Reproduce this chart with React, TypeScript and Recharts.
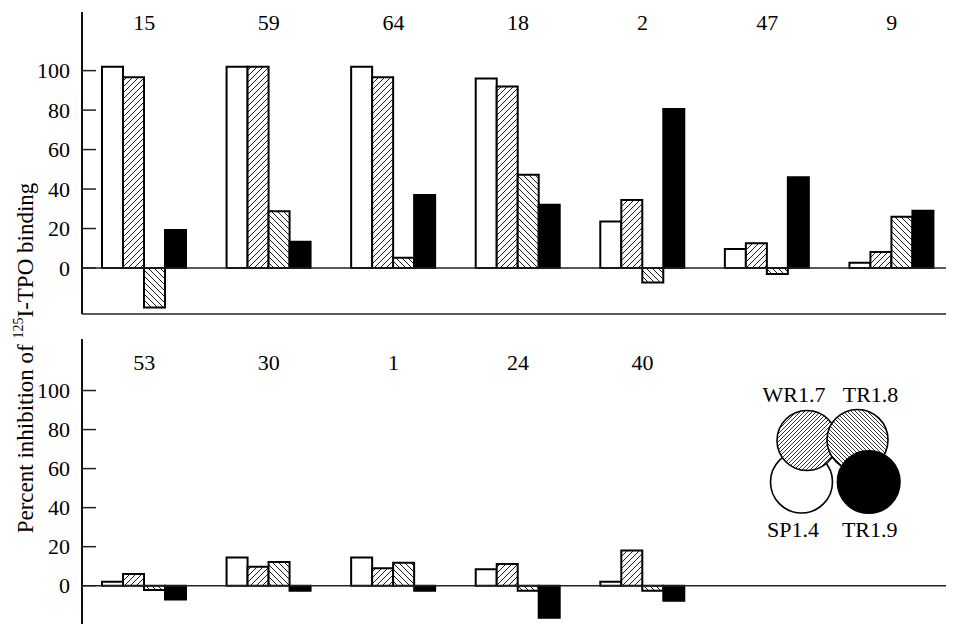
import React from 'react';
import { BarChart, Bar, XAxis, YAxis, ReferenceLine } from 'recharts';

// ---- data ----
const topGroups = ['15', '59', '64', '18', '2', '47', '9'];
const topSP14 = [102, 102, 102, 96, 23.5, 9.6, 2.7];
const topWR17 = [96.6, 102, 96.6, 92, 34.5, 12.5, 8.1];
const topTR18 = [-20, 28.7, 5.2, 47.3, -7.4, -3, 26];
const topTR19 = [19.3, 13.3, 37, 32, 80.6, 46, 29];

const bottomGroups = ['53', '30', '1', '24', '40', ' ', '  '];
const bottomSP14 = [2, 14.4, 14.5, 8.4, 2, null, null];
const bottomWR17 = [6, 9.7, 9, 11.1, 18, null, null];
const bottomTR18 = [-2.2, 12.1, 11.8, -2.6, -2.6, null, null];
const bottomTR19 = [-7, -2.6, -2.6, -16.4, -7.7, null, null];

const seriesNames = ['SP1.4', 'WR1.7', 'TR1.8', 'TR1.9'];
const yTicks = [0, 20, 40, 60, 80, 100];

const FONT = 'Liberation Serif, Times New Roman, serif';

function buildRows(groups: string[], a: any[], b: any[], c: any[], d: any[]) {
  return groups.map((g, i) => ({ group: g, sp: a[i], wr: b[i], tr8: c[i], tr9: d[i] }));
}

const topRows = buildRows(topGroups, topSP14, topWR17, topTR18, topTR19);
const bottomRows = buildRows(bottomGroups, bottomSP14, bottomWR17, bottomTR18, bottomTR19);

const YTick = (props: any) => {
  const { x, y, payload } = props;
  const ax = x + 12;
  return (
    <g>
      <line x1={ax} x2={ax + 14} y1={y} y2={y} stroke="#222" strokeWidth={1.5} />
      <text x={x} y={y} dy="0.35em" textAnchor="end" style={{ fontFamily: FONT, fontSize: 22 }} fill="#000">
        {payload.value}
      </text>
    </g>
  );
};

const GroupTick = (props: any) => {
  const { x, y, payload, labelDy } = props;
  return (
    <text x={x} y={y + labelDy} textAnchor="middle" style={{ fontFamily: FONT, fontSize: 22 }} fill="#000">
      {payload.value}
    </text>
  );
};

function Patterns({ id }: { id: string }) {
  return (
    <defs>
      <pattern id={`fwd-${id}`} patternUnits="userSpaceOnUse" width="6" height="6">
        <rect width="6" height="6" fill="#fff" />
        <path d="M0,6 L6,0 M-1.5,1.5 L1.5,-1.5 M4.5,7.5 L7.5,4.5" stroke="#000" strokeWidth="0.9" />
      </pattern>
      <pattern id={`back-${id}`} patternUnits="userSpaceOnUse" width="6" height="6">
        <rect width="6" height="6" fill="#fff" />
        <path d="M0,0 L6,6 M-1.5,4.5 L1.5,7.5 M4.5,-1.5 L7.5,1.5" stroke="#000" strokeWidth="0.9" />
      </pattern>
    </defs>
  );
}

function Panel({ rows, height, marginTop, marginBottom, domain, labelDy, id }: any) {
  return (
    <BarChart
      width={954}
      height={height}
      data={rows}
      margin={{ top: marginTop, right: 0, bottom: marginBottom, left: 0 }}
      barGap={0}
      barSize={21}
    >
      <Patterns id={id} />
      <XAxis
        xAxisId="b"
        dataKey="group"
        orientation="bottom"
        height={1}
        tick={false}
        tickLine={false}
        axisLine={{ stroke: '#222', strokeWidth: 1.5 }}
      />
      <XAxis
        xAxisId="t"
        dataKey="group"
        orientation="top"
        height={1}
        tickLine={false}
        axisLine={false}
        tickSize={0}
        tickMargin={0}
        interval={0}
        tick={<GroupTick labelDy={labelDy} />}
      />
      <YAxis
        width={82}
        type="number"
        domain={domain}
        allowDataOverflow
        ticks={yTicks}
        interval={0}
        tickSize={0}
        tickMargin={12}
        tickLine={false}
        tick={<YTick />}
        axisLine={{ stroke: '#111', strokeWidth: 2 }}
      />
      <ReferenceLine xAxisId="b" y={0} stroke="#222" strokeWidth={1.5} />
      <Bar xAxisId="b" dataKey="sp" name={seriesNames[0]} fill="#fff" stroke="#000" strokeWidth={2} isAnimationActive={false} />
      <Bar xAxisId="b" dataKey="wr" name={seriesNames[1]} fill={`url(#fwd-${id})`} stroke="#000" strokeWidth={2} isAnimationActive={false} />
      <Bar xAxisId="b" dataKey="tr8" name={seriesNames[2]} fill={`url(#back-${id})`} stroke="#000" strokeWidth={2} isAnimationActive={false} />
      <Bar xAxisId="b" dataKey="tr9" name={seriesNames[3]} fill="#000" stroke="#000" strokeWidth={2} isAnimationActive={false} />
    </BarChart>
  );
}

function Overlay() {
  const circles = [
    { name: seriesNames[0], cx: 801.5, cy: 482, r: 31, fill: '#fff', lx: 793, ly: 537 },
    { name: seriesNames[1], cx: 807, cy: 440.5, r: 30, fill: 'url(#lg-fwd)', lx: 794, ly: 402 },
    { name: seriesNames[2], cx: 857.5, cy: 440, r: 30.5, fill: 'url(#lg-back)', lx: 870.5, ly: 402 },
    { name: seriesNames[3], cx: 868.7, cy: 482, r: 31.3, fill: '#000', lx: 869.7, ly: 537 },
  ];
  return (
    <svg
      width={954}
      height={632}
      style={{ position: 'absolute', left: 0, top: 0, pointerEvents: 'none' }}
    >
      <defs>
        <pattern id="lg-fwd" patternUnits="userSpaceOnUse" width="4" height="4">
          <rect width="4" height="4" fill="#fff" />
          <path d="M0,4 L4,0 M-1,1 L1,-1 M3,5 L5,3" stroke="#000" strokeWidth="0.8" />
        </pattern>
        <pattern id="lg-back" patternUnits="userSpaceOnUse" width="4" height="4">
          <rect width="4" height="4" fill="#fff" />
          <path d="M0,0 L4,4 M-1,3 L1,5 M3,-1 L5,1" stroke="#000" strokeWidth="0.8" />
        </pattern>
      </defs>
      {circles.map((c) => (
        <circle key={c.name} cx={c.cx} cy={c.cy} r={c.r} fill={c.fill} stroke="#000" strokeWidth={1.6} />
      ))}
      {circles.map((c) => (
        <text key={c.name + 't'} x={c.lx} y={c.ly} textAnchor="middle" style={{ fontFamily: FONT, fontSize: 22 }} fill="#000">
          {c.name}
        </text>
      ))}
      <text
        transform="translate(33,358) rotate(-90)"
        textAnchor="middle"
        style={{ fontFamily: FONT, fontSize: 23 }}
        fill="#000"
      >
        Percent inhibition of <tspan style={{ fontSize: 14 }} dy={-10}>125</tspan>
        <tspan dy={10}>I-TPO binding</tspan>
      </text>
    </svg>
  );
}

export default function App() {
  return (
    <div style={{ position: 'relative', width: 954, height: 632, margin: -8, background: '#fff' }}>
      <div style={{ position: 'absolute', left: 0, top: 0 }}>
        <Panel rows={topRows} height={316} marginTop={11} marginBottom={1} domain={[-23.3, 129.7]} labelDy={17.5} id="top" />
      </div>
      <div style={{ position: 'absolute', left: 0, top: 320 }}>
        <Panel rows={bottomRows} height={312} marginTop={18} marginBottom={0} domain={[-23.2, 126.4]} labelDy={31} id="bot" />
      </div>
      <Overlay />
    </div>
  );
}
